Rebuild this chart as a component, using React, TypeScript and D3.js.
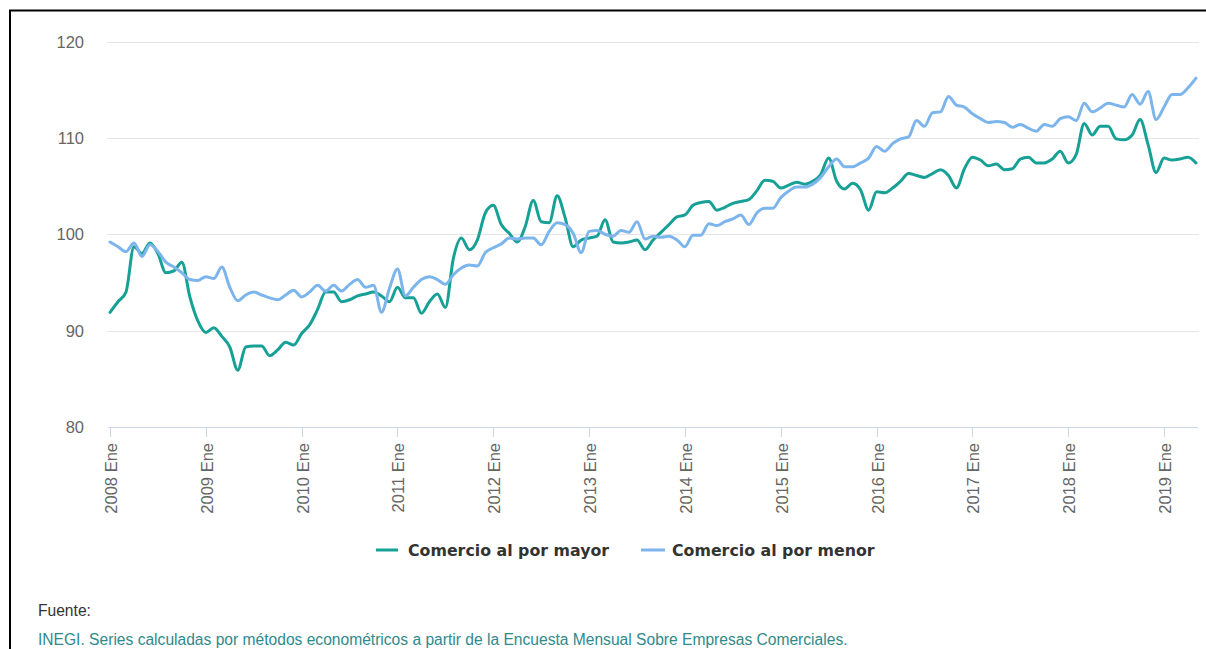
import React from "react";
import * as d3 from "d3";

const startYear = 2008;
const tickYears = [2008, 2009, 2010, 2011, 2012, 2013, 2014, 2015, 2016, 2017, 2018, 2019];
const yTicks = [80, 90, 100, 110, 120];

const seriesNames = ["Comercio al por mayor", "Comercio al por menor"];
const seriesColors = ["#17a096", "#7cb5ec"];

// Monthly values, 2008 Ene .. 2019 May
const mayor = [
  91.9, 93.0, 94.0, 98.7, 98.0, 99.1, 98.0, 96.0, 96.2, 97.1, 93.5, 91.0,
  89.8, 90.3, 89.4, 88.3, 85.9, 88.3, 88.4, 88.4, 87.4, 88.0, 88.8, 88.5,
  89.7, 90.6, 92.2, 94.0, 94.0, 93.0, 93.2, 93.6, 93.8, 94.0, 93.6, 93.0,
  94.5, 93.4, 93.4, 91.8, 93.0, 93.8, 92.4, 97.5, 99.6, 98.4, 99.4, 102.2,
  103.0, 101.0, 100.1, 99.2, 100.8, 103.5, 101.3, 101.2, 104.0, 101.7, 98.7, 99.4,
  99.6, 99.8, 101.5, 99.2, 99.1, 99.2, 99.4, 98.4, 99.4, 100.2, 101.0, 101.8,
  102.0, 103.0, 103.3, 103.4, 102.5, 102.8, 103.2, 103.4, 103.6, 104.5, 105.6, 105.5,
  104.8, 105.1, 105.4, 105.2, 105.5, 106.2, 107.9, 105.5, 104.7, 105.3, 104.6, 102.5,
  104.4, 104.3, 104.8, 105.5, 106.3, 106.1, 105.9, 106.3, 106.7, 106.1, 104.8, 106.8,
  108.0, 107.7, 107.1, 107.3, 106.7, 106.8, 107.8, 108.0, 107.4, 107.4, 107.8, 108.6,
  107.4, 108.3, 111.5, 110.3, 111.2, 111.2, 109.9, 109.8, 110.3, 111.9, 109.3, 106.4,
  107.9, 107.7, 107.8, 108.0, 107.4,
];

const menor = [
  99.2, 98.7, 98.2, 99.1, 97.7, 98.9, 98.2, 97.1, 96.6, 96.0, 95.3, 95.2,
  95.6, 95.4, 96.6, 94.5, 93.1, 93.7, 94.0, 93.7, 93.4, 93.2, 93.7, 94.2,
  93.5, 94.0, 94.7, 94.1, 94.7, 94.1, 94.8, 95.3, 94.5, 94.7, 91.9, 94.4,
  96.4, 93.6, 94.5, 95.3, 95.6, 95.3, 94.8, 95.8, 96.5, 96.8, 96.7, 98.1,
  98.6, 99.0, 99.6, 99.5, 99.6, 99.6, 98.9, 100.3, 101.2, 101.0, 100.1, 98.1,
  100.3, 100.4, 100.0, 99.8, 100.4, 100.2, 101.3, 99.5, 99.8, 99.7, 99.8, 99.4,
  98.7, 99.9, 99.9, 101.1, 100.9, 101.3, 101.6, 102.0, 101.0, 102.2, 102.7, 102.7,
  103.8, 104.5, 104.9, 104.9, 105.2, 105.9, 107.0, 107.8, 107.0, 107.0, 107.4, 107.9,
  109.1, 108.6, 109.4, 109.9, 110.1, 111.8, 111.2, 112.6, 112.7, 114.3, 113.4, 113.2,
  112.5, 112.0, 111.6, 111.7, 111.6, 111.1, 111.4, 111.0, 110.7, 111.4, 111.2, 112.0,
  112.2, 111.8, 113.6, 112.7, 113.1, 113.6, 113.4, 113.2, 114.5, 113.5, 114.8, 111.9,
  113.2, 114.5, 114.5, 115.2, 116.2,
];

const sourceLabel = "Fuente:";
const sourceText =
  "INEGI. Series calculadas por métodos econométricos a partir de la Encuesta Mensual Sobre Empresas Comerciales.";

export default function App() {
  const W = 1206;
  const H = 649;
  const n = mayor.length;
  const x = d3.scaleLinear().domain([0, n - 1]).range([110, 1196]);
  const y = d3.scaleLinear().domain([80, 120]).range([427, 41.5]);
  const line = d3
    .line<number>()
    .x((_, i) => x(i))
    .y((d) => y(d))
    .curve(d3.curveMonotoneX);
  const series = [mayor, menor];
  const font = "'Liberation Sans', Arial, sans-serif";
  const legendFont = "'DejaVu Sans', Verdana, sans-serif";

  return (
    <div style={{ position: "fixed", left: 0, top: 0, width: W, height: H, background: "#fff" }}>
      <svg width={W} height={H} style={{ display: "block" }} fontFamily={font}>
        <rect x={0} y={0} width={W} height={H} fill="#fff" />
        {/* frame */}
        <line x1={9} x2={W} y1={10.5} y2={10.5} stroke="#000" strokeWidth={2} />
        <line x1={10} x2={10} y1={10} y2={H} stroke="#000" strokeWidth={2} />
        {/* grid */}
        {yTicks.filter((t) => t > 80).map((t) => (
          <line key={t} x1={107} x2={1199} y1={Math.round(y(t)) + 0.5} y2={Math.round(y(t)) + 0.5} stroke="#e6e6e6" strokeWidth={1} />
        ))}
        {yTicks.map((t) => (
          <text key={"l" + t} x={84} y={y(t) + 6} textAnchor="end" fontSize={16.5} fill="#666666">
            {t}
          </text>
        ))}
        {/* x axis */}
        <line x1={108} x2={1198} y1={427.5} y2={427.5} stroke="#ccd6eb" strokeWidth={1} />
        {tickYears.map((yr) => {
          const i = (yr - startYear) * 12;
          const xx = Math.round(x(i)) + 0.5;
          return (
            <g key={yr}>
              <line x1={xx} x2={xx} y1={427} y2={437} stroke="#ccd6eb" strokeWidth={1} />
              <text
                transform={`translate(${xx + 6},${443}) rotate(-90)`}
                textAnchor="end"
                fontSize={16.5}
                fill="#666666"
              >
                {`${yr} Ene`}
              </text>
            </g>
          );
        })}
        {/* lines */}
        {series.map((s, k) => (
          <path key={k} d={line(s) || ""} fill="none" stroke={seriesColors[k]} strokeWidth={3} strokeLinejoin="round" strokeLinecap="round" />
        ))}
        {/* legend */}
        <g fontFamily={legendFont}>
          <line x1={376} x2={398} y1={550} y2={550} stroke={seriesColors[0]} strokeWidth={3} />
          <text x={408} y={556} fontSize={15.8} fontWeight="bold" fill="#333333">
            {seriesNames[0]}
          </text>
          <line x1={641} x2={665} y1={550} y2={550} stroke={seriesColors[1]} strokeWidth={3} />
          <text x={672} y={556} fontSize={15.8} fontWeight="bold" fill="#333333">
            {seriesNames[1]}
          </text>
        </g>
        {/* source */}
        <text x={38} y={616} fontSize={15.6} fill="#333333">
          {sourceLabel}
        </text>
        <text x={38} y={645} fontSize={15.6} fill="#2f8a8c">
          {sourceText}
        </text>
      </svg>
    </div>
  );
}
